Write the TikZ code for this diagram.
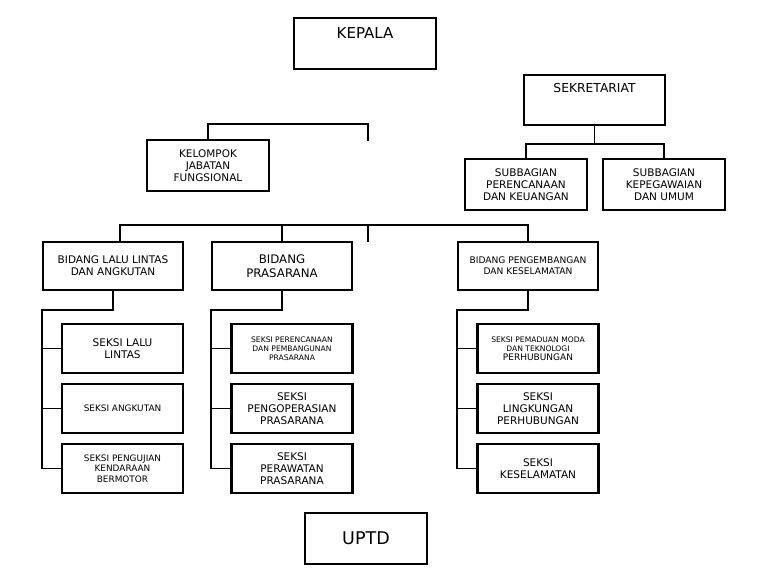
\documentclass[tikz,border=0pt]{standalone}
\usepackage{fontspec}
\setmainfont{DejaVu Sans}
\begin{document}
\begin{tikzpicture}[x=1pt,y=-1pt]
% Organisation chart. Coordinates are pixels of a 769 x 580 page,
% y grows downwards.
\useasboundingbox (0,0) rectangle (769,580);

\tikzset{
  unit/.style={draw,line width=2.3pt,inner sep=1pt,align=center,minimum width=121,minimum height=49},
  bid/.style={minimum width=140,minimum height=48},
  link/.style={line width=1.5pt},
  txt/.style={font=\fontsize{10.5}{12.3}\selectfont},
  sml/.style={font=\fontsize{8.9}{10.5}\selectfont},
  tny/.style={font=\fontsize{7.6}{9}\selectfont}
}

% Top level.
\node[unit,minimum width=142,minimum height=51] (kepala) at (365,43.5) {};
\node[font=\fontsize{15}{18}\selectfont] (kepalalab) at (365,33) {KEPALA};
\node[unit,minimum width=141,minimum height=50] (sekre) at (594.5,100) {};
\node[font=\fontsize{12.3}{14.4}\selectfont] (sekrelab) at (594.5,88) {SEKRETARIAT};
\node[unit,txt,minimum width=122,minimum height=51] (jabfung) at (208,165.5) {KELOMPOK\\JABATAN\\FUNGSIONAL};
\node[unit,txt,minimum width=122,minimum height=51] (subren) at (526,184.5) {SUBBAGIAN\\PERENCANAAN\\DAN KEUANGAN};
\node[unit,txt,minimum width=122,minimum height=51] (subpeg) at (664,184.5) {SUBBAGIAN\\KEPEGAWAIAN\\DAN UMUM};

% Sekretariat and its two subbagian.
\coordinate (sekbus) at (594.5,144);
\draw[link] (sekre.south) -- (sekbus);
\draw[link] (subren.north) |- (sekbus) -| (subpeg.north);

% Jabatan fungsional, open stub on the right.
\coordinate (jfturn) at (368,124);
\coordinate (jfend) at (368,141);
\draw[link] (jabfung.north) |- (jfturn) -- (jfend);

% Bidang row.
\node[unit,bid,txt] (bidlla) at (113,266) {BIDANG LALU LINTAS\\DAN ANGKUTAN};
\node[unit,bid,font=\fontsize{11.8}{14}\selectfont] (bidpra) at (282,266) {BIDANG\\PRASARANA};
\node[unit,bid,font=\fontsize{9.1}{11}\selectfont] (bidkes) at (528,266) {BIDANG PENGEMBANGAN\\DAN KESELAMATAN};

\coordinate (busl) at (120,225);
\coordinate (bidend) at (368,242);
\draw[link] (bidlla.north -| busl) |- (bidkes.north |- busl) -- (bidkes.north);
\draw[link] (bidpra.north) -- (bidpra.north |- busl);
\draw[link] (bidend |- busl) -- (bidend);

% Seksi, three per bidang.
\node[unit,txt] (slalin) at (122.5,348.5) {SEKSI LALU\\LINTAS};
\node[unit,sml] (sangk) at (122.5,408.5) {SEKSI ANGKUTAN};
\node[unit,sml] (suji) at (122.5,468.5) {SEKSI PENGUJIAN\\KENDARAAN\\BERMOTOR};
\node[unit,tny] (sren) at (292,348.5) {SEKSI PERENCANAAN\\DAN PEMBANGUNAN\\PRASARANA};
\node[unit,txt] (sops) at (292,408.5) {SEKSI\\PENGOPERASIAN\\PRASARANA};
\node[unit,txt] (srawat) at (292,468.5) {SEKSI\\PERAWATAN\\PRASARANA};
\node[unit,tny] (smoda) at (538,348.5) {SEKSI PEMADUAN MODA\\DAN TEKNOLOGI\\\fontsize{9}{10.6}\selectfont PERHUBUNGAN};
\node[unit,txt] (sling) at (538,408.5) {SEKSI\\LINGKUNGAN\\PERHUBUNGAN};
\node[unit,txt] (skes) at (538,468.5) {SEKSI\\KESELAMATAN};

\foreach \b/\p/\q/\r in {bidlla/slalin/sangk/suji,bidpra/sren/sops/srawat,bidkes/smoda/sling/skes}{
  \draw[link] (\b.south) -- ++(0,19) -| (\b.west |- \r.west) -- (\r.west);
  \draw[link] (\b.west |- \p.west) -- (\p.west);
  \draw[link] (\b.west |- \q.west) -- (\q.west);
}

% UPTD, standing alone.
\node[unit,minimum width=122,minimum height=51,font=\fontsize{17.5}{21}\selectfont] (uptd) at (366,538.5) {UPTD};
\end{tikzpicture}
\end{document}
